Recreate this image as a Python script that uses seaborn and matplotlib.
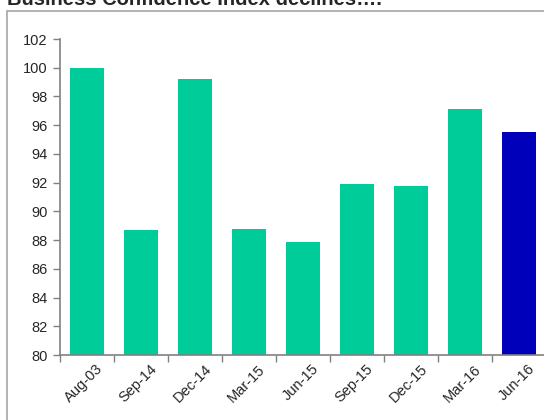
import pandas as pd
import seaborn as sns
import matplotlib.pyplot as plt
import matplotlib.transforms as mtransforms
from matplotlib.patches import Rectangle

# data
periods = ["Aug-03", "Sep-14", "Dec-14", "Mar-15", "Jun-15",
           "Sep-15", "Dec-15", "Mar-16", "Jun-16"]
index_values = [100.0, 88.7, 99.2, 88.8, 87.9, 91.9, 91.8, 97.1, 95.5]
bar_colors = ["#00CC99"] * 8 + ["#0000BB"]
y_ticks = list(range(80, 103, 2))

df = pd.DataFrame({"period": periods, "value": index_values})

sns.set_style("white")
plt.rcParams["font.family"] = ["Liberation Sans", "DejaVu Sans"]

fig = plt.figure(figsize=(5.44, 4.2), dpi=100)
# outer chart frame (cropped on the right and bottom)
fig.patches.append(Rectangle((7 / 544, -0.1), 1.2, 1.1 - 11 / 420,
                             transform=fig.transFigure, fill=False,
                             edgecolor="#A6A6A6", linewidth=1.2))
fig.text(7 / 544, 1 - 5 / 420, "Business Confidence Index declines….",
         fontsize=14.5, fontweight="bold", va="baseline", ha="left")

ax = fig.add_axes([60 / 544, 1 - 355 / 420, 486 / 544, 316 / 420])
sns.barplot(data=df, x="period", y="value", hue="period",
            palette=bar_colors, legend=False, width=0.62,
            saturation=1, linewidth=0, ax=ax)

ax.set_ylim(80, 102)
ax.set_xlim(-0.5, len(periods) - 0.5)
ax.set_yticks(y_ticks)
ax.set_xlabel("")
ax.set_ylabel("")

for side in ["top", "right"]:
    ax.spines[side].set_visible(False)
for side in ["left", "bottom"]:
    ax.spines[side].set_color("#808080")
    ax.spines[side].set_linewidth(1.2)

ax.tick_params(axis="y", direction="out", length=5, width=1,
               color="#808080", labelsize=10.5, pad=4, left=True)
ax.tick_params(axis="x", which="major", length=0, labelsize=10.5, pad=5)
ax.set_xticks([i - 0.5 for i in range(len(periods) + 1)], minor=True)
ax.tick_params(axis="x", which="minor", direction="out", length=5,
               width=1, color="#808080", bottom=True)

shift = mtransforms.ScaledTranslation(9 / 100, 0, fig.dpi_scale_trans)
for lbl in ax.get_xticklabels():
    lbl.set_rotation(45)
    lbl.set_ha("right")
    lbl.set_rotation_mode("anchor")
    lbl.set_transform(lbl.get_transform() + shift)

plt.savefig("out.png", dpi=100)
plt.close()
